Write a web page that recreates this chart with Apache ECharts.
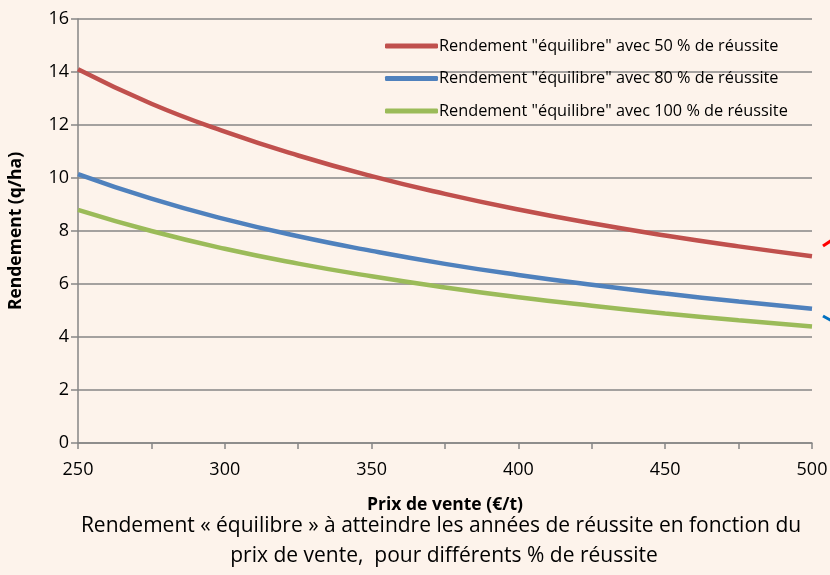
<!DOCTYPE html>
<html><head><meta charset="utf-8">
<script src="https://cdn.jsdelivr.net/npm/echarts@6/dist/echarts.min.js"></script>
<style>html,body{margin:0;padding:0;background:#FDF3EB;}#c{width:830px;height:575px;}</style>
</head><body><div id="c"></div>
<script>
const prices = [250, 275, 300, 325, 350, 375, 400, 425, 450, 475, 500];
const rend50 = [14.1, 12.8, 11.75, 10.85, 10.07, 9.4, 8.81, 8.29, 7.83, 7.42, 7.05];
const rend80 = [10.15, 9.22, 8.45, 7.8, 7.25, 6.76, 6.34, 5.97, 5.64, 5.34, 5.07];
const rend100 = [8.8, 8.0, 7.33, 6.77, 6.29, 5.87, 5.5, 5.18, 4.89, 4.63, 4.4];
const seriesNames = [
  'Rendement "équilibre" avec 50 % de réussite',
  'Rendement "équilibre" avec 80 % de réussite',
  'Rendement "équilibre" avec 100 % de réussite'
];
const colors = ['#C0504D', '#4F81BD', '#9BBB59'];
const xTitle = 'Prix de vente (€/t)';
const yTitle = 'Rendement (q/ha)';
const caption = ['Rendement « équilibre » à atteindre les années de réussite en fonction du', 'prix de vente,  pour différents % de réussite'];

const font = '"Open Sans", "Noto Sans", sans-serif';
const pair = (xs, ys) => xs.map((x, i) => [x, ys[i]]);
const chart = echarts.init(document.getElementById('c'));
chart.setOption({
  backgroundColor: '#FDF3EB',
  animation: false,
  grid: { left: 78, right: 18, top: 19, bottom: 132, containLabel: false, outerBoundsMode: 'none' },
  legend: {
    orient: 'vertical', left: 380, top: 31, itemWidth: 53, itemHeight: 5, itemGap: 12.5,
    textStyle: { fontFamily: font, fontSize: 16.3, lineHeight: 20, color: '#000', padding: [0,0,0,-4] },
    data: seriesNames.map(n => ({ name: n, icon: 'roundRect' }))
  },
  xAxis: {
    type: 'value', min: 250, max: 500, interval: 25,
    name: xTitle, nameLocation: 'middle', nameGap: 53,
    nameTextStyle: { fontFamily: font, fontSize: 17.5, fontWeight: 'bold', color: '#000' },
    axisLine: { lineStyle: { color: '#868686', width: 1.5 } },
    axisTick: { length: 6, lineStyle: { color: '#868686', width: 1.5 } },
    axisLabel: { fontFamily: font, fontSize: 18, color: '#000', margin: 18,
      formatter: v => (v % 50 === 0 ? String(v) : '') },
    splitLine: { show: false }
  },
  yAxis: {
    type: 'value', min: 0, max: 16, interval: 2,
    name: yTitle, nameLocation: 'middle', nameGap: 53, nameRotate: 90,
    nameTextStyle: { fontFamily: font, fontSize: 17.5, fontWeight: 'bold', color: '#000' },
    axisLine: { show: true, lineStyle: { color: '#868686', width: 1.5 } },
    axisTick: { show: true, length: 7, lineStyle: { color: '#868686', width: 1.5 } },
    axisLabel: { fontFamily: font, fontSize: 18, color: '#000', margin: 9 },
    splitLine: { lineStyle: { color: '#868686', width: 1.5 } }
  },
  series: [rend50, rend80, rend100].map((d, i) => ({
    name: seriesNames[i], type: 'line', smooth: true, symbol: 'none',
    data: pair(prices, d), color: colors[i],
    lineStyle: { width: 4.5, color: colors[i] }
  })),
  graphic: [
    { type: 'text', x: 441, y: 526, style: { text: caption[0], fontFamily: font, fontSize: 21, fill: '#000', align: 'center', verticalAlign: 'middle' } },
    { type: 'text', x: 444, y: 556, style: { text: caption[1], fontFamily: font, fontSize: 21, fill: '#000', align: 'center', verticalAlign: 'middle' } },
    { type: 'line', shape: { x1: 823, y1: 246, x2: 832, y2: 240 }, style: { stroke: '#FF0000', lineWidth: 3 } },
    { type: 'line', shape: { x1: 823, y1: 316, x2: 832, y2: 321 }, style: { stroke: '#0070C0', lineWidth: 3 } }
  ]
});
</script></body></html>
